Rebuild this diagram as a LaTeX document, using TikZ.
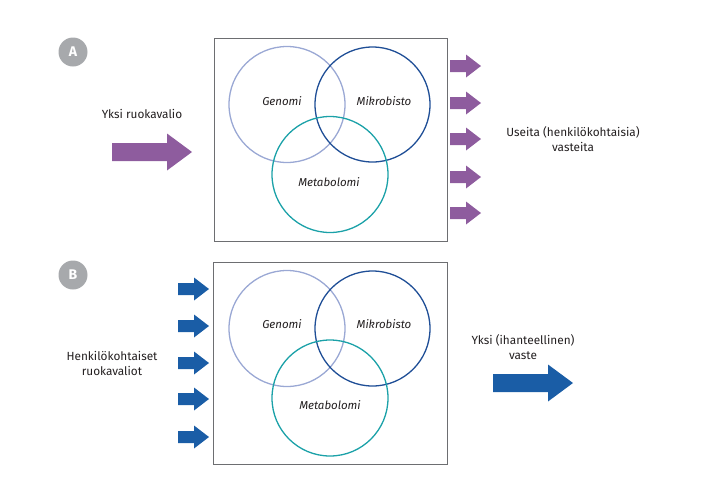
\documentclass[tikz,border=0pt]{standalone}
\usepackage{fontspec}
\setmainfont{Fira Sans}
\definecolor{purp}{HTML}{8E5C9E}
\definecolor{arrblue}{HTML}{1A5DA6}
\definecolor{cgen}{HTML}{9AA8D4}
\definecolor{cmik}{HTML}{1F4E96}
\definecolor{cmet}{HTML}{1BA1A8}
\definecolor{boxgray}{HTML}{6D6E71}
\definecolor{badge}{HTML}{A7A9AC}
\definecolor{txt}{HTML}{231F20}
\begin{document}
\begin{tikzpicture}[x=1pt,y=-1pt,
  panel/.style={draw=boxgray,line width=1pt},
  venn/.style={line width=1.3pt},
  lbl/.style={font=\fontsize{11.5}{13}\selectfont\itshape,text=txt,inner sep=0pt},
  txtlbl/.style={font=\fontsize{11.8}{14.5}\selectfont,text=txt,align=center,inner sep=0pt},
  badgec/.style={circle,fill=badge,minimum size=29pt,inner sep=0pt,text=white,font=\fontsize{14}{14}\selectfont\bfseries},
  smallarr/.pic={\fill (0,-6) -- (16,-6) -- (16,-11.5) -- (31,0) -- (16,11.5) -- (16,6) -- (0,6) -- cycle;},
  bigarr/.pic={\fill (0,-9) -- (55,-9) -- (55,-18.5) -- (80,0) -- (55,18.5) -- (55,9) -- (0,9) -- cycle;}
]
\useasboundingbox (0,0) rectangle (705,499);
% ---------- Panel A ----------
\node[badgec] (badgeA) at (73,52) {A};
\draw[panel] (214,38) rectangle (447,241);
\node[circle,draw=cgen,venn,minimum size=116pt,inner sep=0pt] (genA) at (287,104.5) {};
\node[circle,draw=cmik,venn,minimum size=115pt,inner sep=0pt] (mikA) at (372.5,104.5) {};
\node[circle,draw=cmet,venn,minimum size=116pt,inner sep=0pt] (metA) at (330,174.5) {};
\node[lbl] (genAl) at (282,101) {Genomi};
\node[lbl] (mikAl) at (384,101) {Mikrobisto};
\node[lbl] (metAl) at (329,182) {Metabolomi};
\node[txtlbl] (inA) at (142,114) {Yksi ruokavalio};
\pic[fill=purp] at (112,152) {bigarr};
\foreach \yy in {66,103,139,177,213} \pic[fill=purp] at (450,\yy) {smallarr};
\node[txtlbl] (outA) at (573,139) {Useita (henkilökohtaisia)\\vasteita};
% ---------- Panel B ----------
\node[badgec] (badgeB) at (73,275) {B};
\draw[panel] (213,262) rectangle (447,464);
\node[circle,draw=cgen,venn,minimum size=116pt,inner sep=0pt] (genB) at (287,328.5) {};
\node[circle,draw=cmik,venn,minimum size=115pt,inner sep=0pt] (mikB) at (372.5,328.5) {};
\node[circle,draw=cmet,venn,minimum size=116pt,inner sep=0pt] (metB) at (330,398) {};
\node[lbl] (genBl) at (282,324) {Genomi};
\node[lbl] (mikBl) at (384,324) {Mikrobisto};
\node[lbl] (metBl) at (330,405) {Metabolomi};
\node[txtlbl] (inB) at (112,363.5) {Henkilökohtaiset\\ruokavaliot};
\foreach \yy in {289,326,363,399,437} \pic[fill=arrblue] at (178,\yy) {smallarr};
\node[txtlbl] (outB) at (523,347) {Yksi (ihanteellinen)\\vaste};
\pic[fill=arrblue] at (493,383) {bigarr};
\end{tikzpicture}
\end{document}
